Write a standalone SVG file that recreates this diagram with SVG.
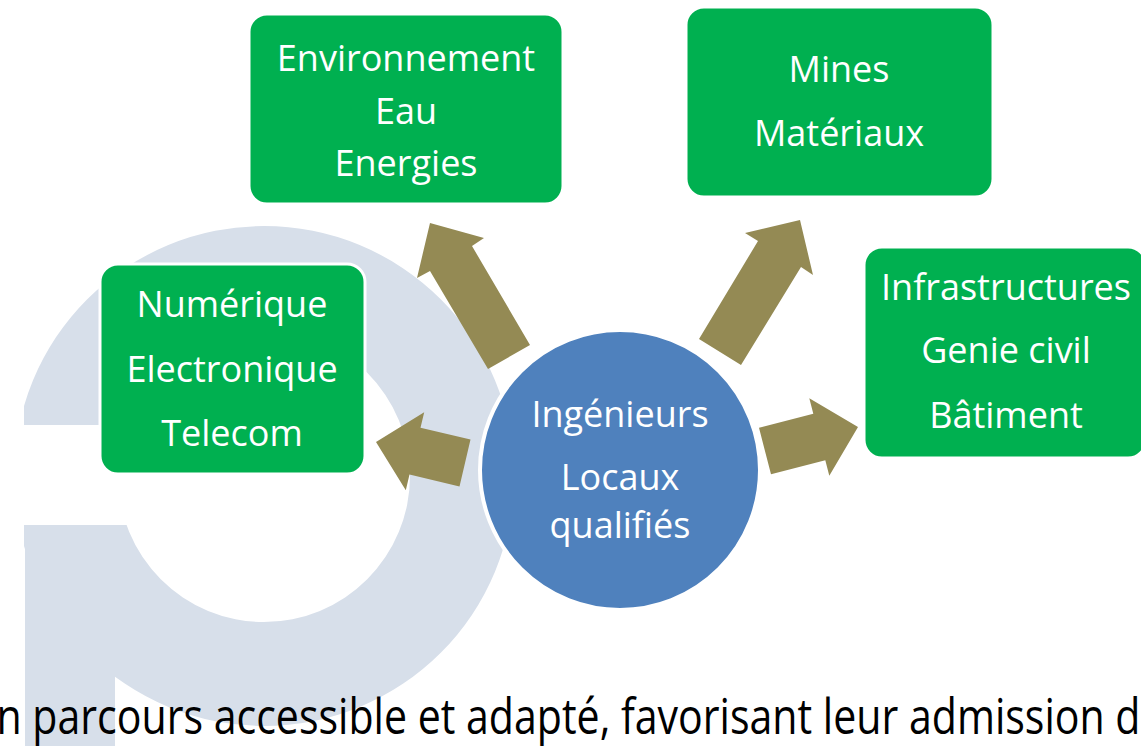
<svg xmlns="http://www.w3.org/2000/svg" width="1141" height="746" viewBox="0 0 1141 746">
<defs>
<style>
.box{fill:#00B050;stroke:#FFFFFF;stroke-width:3}
.lbl{font-family:"Open Sans","Liberation Sans",sans-serif;font-size:36px;fill:#FFFFFF;text-anchor:middle}
.arr{fill:#948A54}
.wm{fill:#D7DFEA}
</style>
<clipPath id="wmclip"><rect x="24" y="0" width="1117" height="746"/></clipPath>
</defs>
<rect x="0" y="0" width="1141" height="746" fill="#FFFFFF"/>
<g id="watermark" clip-path="url(#wmclip)">
<path class="wm" fill-rule="evenodd" d="M514,476 A250,250 0 1,0 14,476 A250,250 0 1,0 514,476 Z M410,476 A146,146 0 1,0 118,476 A146,146 0 1,0 410,476 Z"/>
<rect class="wm" x="25" y="525" width="90" height="221"/>
<rect x="0" y="425" width="150" height="100" fill="#FFFFFF"/>
</g>
<g id="connectors">
<polygon class="arr" points="530,345 472,246 484,238 430,223 417,278 430,271 488,369"/>
<polygon class="arr" points="741,365 801,267 813,275 800,220 745,233 758,241 699,339"/>
<polygon class="arr" points="470.5,439.6 420.5,427.8 424.2,412.2 376,442 405.8,490.2 409.5,474.6 459.5,486.4"/>
<polygon class="arr" points="771,474.2 825.3,460.2 829.3,475.7 858,427 809.3,398.3 813.3,413.8 759,427.8"/>
</g>
<g id="node-env">
<rect class="box" x="249" y="14" width="314" height="190" rx="18"/>
<text class="lbl" x="406" y="71">Environnement</text>
<text class="lbl" x="406" y="124">Eau</text>
<text class="lbl" x="406" y="176">Energies</text>
</g>
<g id="node-mines">
<rect class="box" x="686" y="7" width="307" height="190" rx="18"/>
<text class="lbl" x="839" y="82">Mines</text>
<text class="lbl" x="839" y="146">Matériaux</text>
</g>
<g id="node-num">
<rect class="box" x="100" y="264" width="265" height="210" rx="18"/>
<text class="lbl" x="232" y="317">Numérique</text>
<text class="lbl" x="232" y="382">Electronique</text>
<text class="lbl" x="232" y="446">Telecom</text>
</g>
<g id="node-infra">
<rect class="box" x="864" y="247" width="282" height="211" rx="18"/>
<text class="lbl" x="1006" y="300">Infrastructures</text>
<text class="lbl" x="1006" y="363">Genie civil</text>
<text class="lbl" x="1006" y="428">Bâtiment</text>
</g>
<g id="node-center">
<circle cx="620" cy="470" r="140" fill="#4F81BD" stroke="#FFFFFF" stroke-width="4"/>
<text class="lbl" x="620" y="427">Ingénieurs</text>
<text class="lbl" x="620" y="490">Locaux</text>
<text class="lbl" x="620" y="538">qualifiés</text>
</g>
<text x="-3.5" y="734" font-family="Open Sans, Liberation Sans, sans-serif" font-size="50" fill="#000000" textLength="1144" lengthAdjust="spacingAndGlyphs">n parcours accessible et adapté, favorisant leur admission d</text>
</svg>
